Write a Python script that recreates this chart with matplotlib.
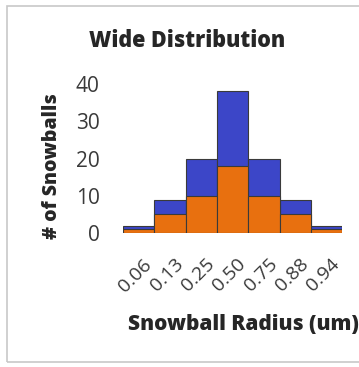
import matplotlib
matplotlib.use("Agg")
import matplotlib.pyplot as plt
import matplotlib.transforms as mtransforms
from matplotlib.patches import Rectangle

plt.rcParams["font.family"] = ["Open Sans", "DejaVu Sans"]

# data
radius = ["0.06", "0.13", "0.25", "0.50", "0.75", "0.88", "0.94"]
total = [2, 9, 20, 38, 20, 9, 2]
subset = [1, 5, 10, 18, 10, 5, 1]

fig = plt.figure(figsize=(3.59, 3.67), dpi=100)
fig.patch.set_facecolor("white")

# light frame around the chart
fig.patches.append(Rectangle((7 / 359, 5 / 367), 1.2, 356 / 367, transform=fig.transFigure,
                             fill=False, edgecolor="#c8c8c8", linewidth=1.2))

ax = fig.add_axes([0.343, 0.365, 0.610, 0.406])
x = range(len(radius))
ax.bar(x, total, width=1.0, color="#3c46c8", edgecolor="#3a3a3a", linewidth=0.8)
ax.bar(x, subset, width=1.0, color="#e8700f", edgecolor="#3a3a3a", linewidth=0.8)

ax.set_xlim(-0.5, 6.5)
ax.set_ylim(0, 40)
ax.set_yticks([0, 10, 20, 30, 40])
ax.set_xticks(list(x))
ax.set_xticklabels(radius, rotation=45, ha="right", va="top", rotation_mode="anchor")
ax.tick_params(axis="both", length=0, colors="#3a3a3a")
ax.tick_params(axis="x", pad=16, labelsize=14)
ax.tick_params(axis="y", pad=17, labelsize=15)
shift = mtransforms.ScaledTranslation(4 / 100, 0, fig.dpi_scale_trans)
for lab in ax.get_xticklabels():
    lab.set_transform(lab.get_transform() + shift)
    lab.set_fontweight("medium")
for lab in ax.get_yticklabels():
    lab.set_fontweight("medium")
for s in ax.spines.values():
    s.set_visible(False)

fig.text(0.52, 0.888, "Wide Distribution", fontsize=15.5, fontweight="heavy",
         color="#262626", ha="center", va="center")
fig.text(0.145, 1 - 166 / 367, "# of Snowballs", fontsize=14, fontweight="heavy",
         color="#262626", ha="center", va="center", rotation=90)
fig.text(0.677, 1 - 325 / 367, "Snowball Radius (um)", fontsize=15, fontweight="heavy",
         color="#262626", ha="center", va="center")

plt.savefig("out.png", dpi=100)
